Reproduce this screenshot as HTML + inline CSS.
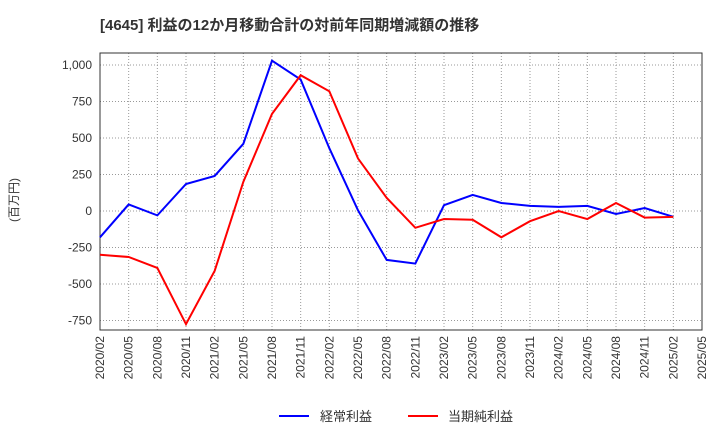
<!DOCTYPE html>
<html><head><meta charset="utf-8"><style>
body{margin:0;background:#fff;font-family:"Liberation Sans","Noto Sans CJK JP",sans-serif;}
svg text{font-family:"Liberation Sans","Noto Sans CJK JP",sans-serif;}
</style></head><body>
<svg id="c" width="720" height="440" xmlns="http://www.w3.org/2000/svg">
<text x="100" y="30" font-size="15" font-weight="bold" fill="#333">[4645]  利益の12か月移動合計の対前年同期増減額の推移</text>
<text transform="translate(18,200) rotate(-90)" font-size="12" fill="#333" text-anchor="middle">(百万円)</text>
<g id="grid"></g><g id="axes"></g><g id="series"></g>
<g>
<line x1="279" y1="416" x2="309" y2="416" stroke="#0000ff" stroke-width="2"/>
<text x="320" y="421" font-size="13" fill="#333">経常利益</text>
<line x1="408" y1="416" x2="438" y2="416" stroke="#ff0000" stroke-width="2"/>
<text x="448" y="421" font-size="13" fill="#333">当期純利益</text>
</g>
</svg>
<script>
const categories=["2020/02","2020/05","2020/08","2020/11","2021/02","2021/05","2021/08","2021/11","2022/02","2022/05","2022/08","2022/11","2023/02","2023/05","2023/08","2023/11","2024/02","2024/05","2024/08","2024/11","2025/02","2025/05"];
const keijoValues=[-180,45,-30,185,240,460,1030,900,430,5,-335,-360,40,110,55,35,28,35,-20,20,-40];
const junriValues=[-300,-315,-390,-775,-410,200,665,930,820,360,90,-115,-55,-60,-180,-70,0,-55,55,-45,-40];
const yTicks=[-750,-500,-250,0,250,500,750,1000];
const yTickLabels=["-750","-500","-250","0","250","500","750","1,000"];
const L=100,R=702,T=53,B=330;
const x=i=>L+(R-L)*i/(categories.length-1);
const y=v=>211-v*36.5/250;
const NS="http://www.w3.org/2000/svg";
function mk(tag,attrs,parent){const e=document.createElementNS(NS,tag);for(const k in attrs)e.setAttribute(k,attrs[k]);document.getElementById(parent).appendChild(e);return e;}
const r=mk('rect',{x:L,y:T,width:R-L,height:B-T,fill:'none',stroke:'#333','stroke-width':1},'axes');


yTicks.forEach((v,i)=>{
 const g=mk('line',{x1:L,x2:R,y1:y(v),y2:y(v),stroke:'#999','stroke-dasharray':'1,2'},'grid');
 
 
 const t=mk('text',{x:L-8,y:y(v)+4,'font-size':12,'text-anchor':'end',fill:'#333'},'axes');
 t.textContent=yTickLabels[i];
 
 
});
categories.forEach((c,i)=>{
 const g=mk('line',{x1:x(i),x2:x(i),y1:T,y2:B,stroke:'#999','stroke-dasharray':'1,2'},'grid');
 
 
 const t=mk('text',{transform:`translate(${x(i)+4},${B+6}) rotate(-90)`,'font-size':12,'text-anchor':'end',fill:'#333'},'axes');
 t.textContent=c;
 
 
});
function line(vals,color,name){
 const p=mk('polyline',{points:vals.map((v,i)=>x(i)+','+y(v)).join(' '),fill:'none',stroke:color,'stroke-width':2},'series');
 
 
}
line(keijoValues,'#0000ff','keijo-line');
line(junriValues,'#ff0000','junri-line');
</script>
</body></html>
